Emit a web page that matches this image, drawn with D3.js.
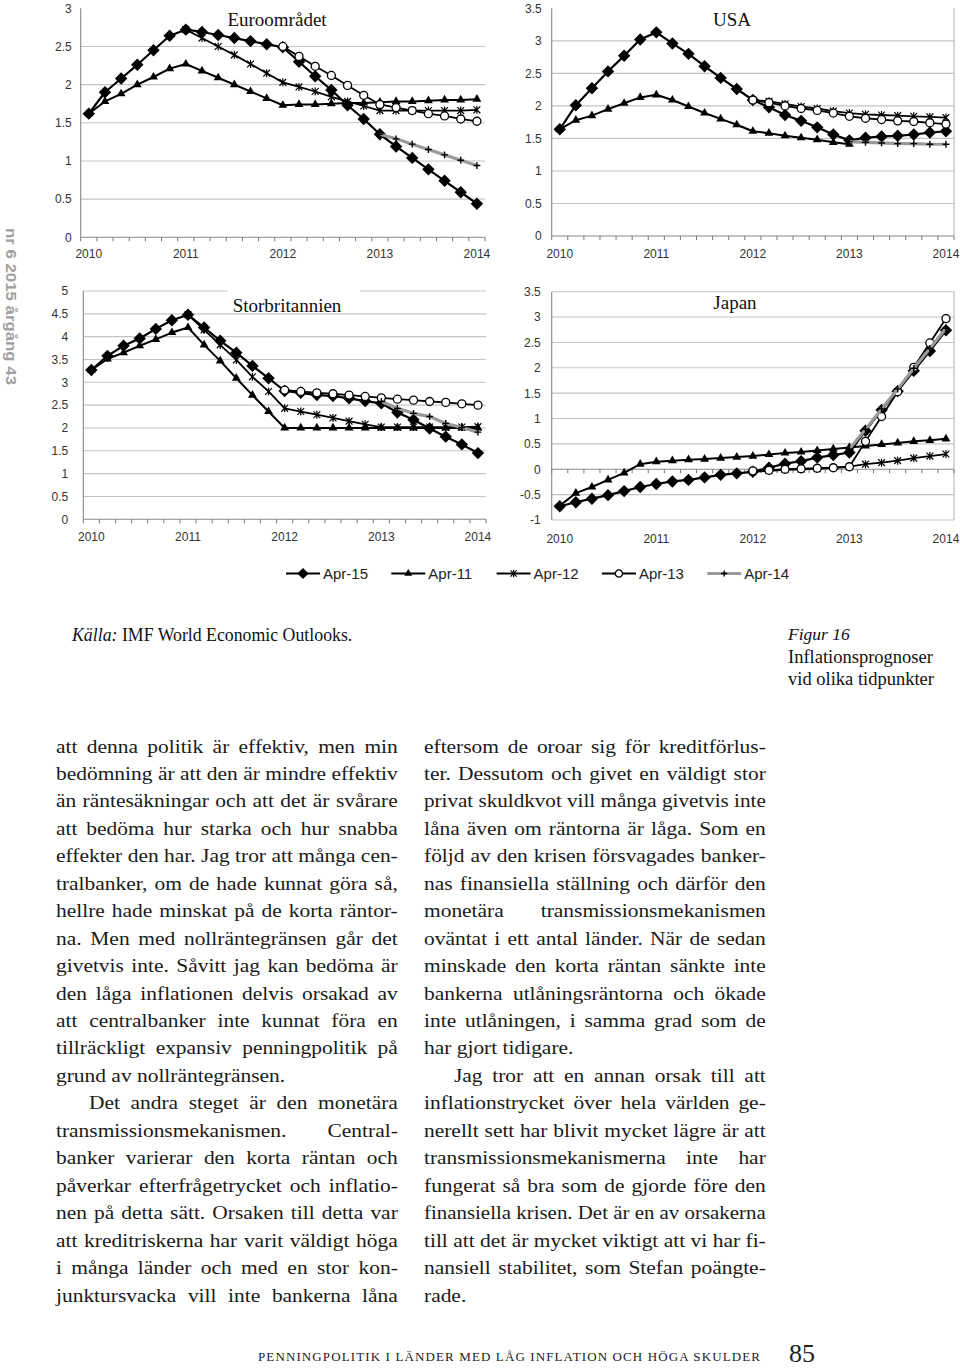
<!DOCTYPE html>
<html><head><meta charset="utf-8">
<script src="https://cdn.jsdelivr.net/npm/d3@7/dist/d3.min.js"></script>
<style>body{margin:0;background:#fff}svg{display:block}</style>
</head><body>
<svg id="page" width="960" height="1368"></svg>
<script>
// ---------------- DATA ----------------
const periods = ["2010-01","2010-03","2010-05","2010-07","2010-09","2010-11",
 "2011-01","2011-03","2011-05","2011-07","2011-09","2011-11",
 "2012-01","2012-03","2012-05","2012-07","2012-09","2012-11",
 "2013-01","2013-03","2013-05","2013-07","2013-09","2013-11","2014-01"];
const yearTickPeriods = ["2010-01","2011-01","2012-01","2013-01","2014-01"];
const yearLabels = ["2010","2011","2012","2013","2014"];
const seriesNames = ["Apr-15","Apr-11","Apr-12","Apr-13","Apr-14"];
const N = null;

const euroApr15 = [1.62,1.90,2.08,2.26,2.45,2.64,2.72, 2.69,2.65,2.61,2.57,2.53,2.49, 2.30,2.11,1.93,1.73,1.55,1.35, 1.19,1.04,0.89,0.74,0.59,0.44];
const euroApr11 = [1.62,1.78,1.88,2.00,2.10,2.21,2.27, 2.18,2.09,2.00,1.91,1.82,1.73, 1.74,1.74,1.75,1.76,1.76,1.77, 1.78,1.78,1.79,1.80,1.80,1.81];
const euroApr12 = [N,N,N,N,N,N,2.72, 2.61,2.50,2.39,2.27,2.15,2.03, 1.97,1.91,1.84,1.78,1.72,1.66, 1.66,1.66,1.66,1.66,1.66,1.67];
const euroApr13 = [N,N,N,N,N,N,N,N,N,N,N,N,2.50, 2.37,2.24,2.12,1.99,1.86,1.74, 1.70,1.66,1.62,1.59,1.55,1.52];
const euroApr14 = [N,N,N,N,N,N,N,N,N,N,N,N,N,N,N,N,N,N,1.35, 1.29,1.22,1.15,1.08,1.01,0.94];

const usaApr15 = [1.64,2.01,2.27,2.53,2.77,3.02,3.13, 2.96,2.80,2.61,2.43,2.26,2.09, 1.98,1.86,1.77,1.67,1.56,1.47, 1.51,1.53,1.54,1.56,1.59,1.61];
const usaApr11 = [1.64,1.78,1.85,1.95,2.04,2.13,2.17, 2.09,1.99,1.89,1.80,1.71,1.61, 1.58,1.54,1.51,1.48,1.44,1.41, N,N,N,N,N,N];
const usaApr12 = [N,N,N,N,N,N,N,N,N,N,N,N,2.09, 2.07,2.03,1.99,1.96,1.92,1.89, 1.87,1.86,1.85,1.84,1.83,1.82];
const usaApr13 = [N,N,N,N,N,N,N,N,N,N,N,N,2.09, 2.05,2.00,1.96,1.93,1.89,1.84, 1.81,1.79,1.77,1.76,1.74,1.72];
const usaApr14 = [N,N,N,N,N,N,N,N,N,N,N,N,N,N,N,N,N,N,1.45, 1.44,1.43,1.42,1.42,1.41,1.41];

const ukApr15 = [3.27,3.58,3.80,3.96,4.17,4.36,4.48, 4.20,3.91,3.65,3.36,3.09,2.81, 2.77,2.72,2.70,2.65,2.59,2.54, 2.34,2.18,1.99,1.81,1.64,1.45];
const ukApr11 = [3.27,3.51,3.65,3.80,3.94,4.09,4.20, 3.82,3.47,3.09,2.72,2.36,2.00, 2.00,2.00,2.00,2.00,2.00,2.00, 2.00,2.00,2.00,2.00,2.00,2.00];
const ukApr12 = [N,N,N,N,N,N,4.48, 4.15,3.82,3.49,3.12,2.80,2.43, 2.36,2.29,2.22,2.15,2.08,2.02, 2.02,2.02,2.02,2.02,2.02,2.03];
const ukApr13 = [N,N,N,N,N,N,N,N,N,N,N,N,2.83, 2.80,2.77,2.75,2.72,2.69,2.66, 2.63,2.61,2.58,2.56,2.53,2.50];
const ukApr14 = [N,N,N,N,N,N,N,N,N,N,N,N,N,N,N,N,N,N,2.58, 2.43,2.32,2.25,2.10,2.01,1.91];

const japanApr15 = [-0.73,-0.65,-0.58,-0.51,-0.43,-0.35,-0.29, -0.24,-0.21,-0.16,-0.11,-0.08,-0.05, 0.03,0.11,0.16,0.23,0.28,0.33, 0.76,1.17,1.54,1.94,2.33,2.74];
const japanApr11 = [-0.72,-0.47,-0.35,-0.21,-0.07,0.10,0.15, 0.17,0.19,0.20,0.22,0.24,0.26, 0.29,0.32,0.34,0.37,0.40,0.43, 0.46,0.49,0.52,0.55,0.57,0.60];
const japanApr12 = [N,N,N,N,N,N,N,N,N,N,N,N,-0.05, -0.03,-0.01,0.00,0.01,0.03,0.05, 0.10,0.13,0.17,0.22,0.26,0.30];
const japanApr13 = [N,N,N,N,N,N,N,N,N,N,N,N,-0.03, -0.02,0.00,0.01,0.02,0.03,0.05, 0.55,1.04,1.53,2.01,2.49,2.97];
const japanApr14 = [N,N,N,N,N,N,N,N,N,N,N,N,N,N,N,N,N,N,0.40, 0.79,1.19,1.58,1.99,2.38,2.78];

const euroTicks = [0,0.5,1,1.5,2,2.5,3];
const usaTicks = [0,0.5,1,1.5,2,2.5,3,3.5];
const ukTicks = [0,0.5,1,1.5,2,2.5,3,3.5,4,4.5,5];
const japanTicks = [-1,-0.5,0,0.5,1,1.5,2,2.5,3,3.5];

// ---------------- STYLE / LAYOUT ----------------
const SANS = "'Liberation Sans', Arial, sans-serif";
const SERIF = "'Liberation Serif', 'Times New Roman', serif";
const svg = d3.select("#page");

const styles = {
  "Apr-15": {stroke:"#000", w:2.2, m:"diamond"},
  "Apr-11": {stroke:"#000", w:2.0, m:"triangle"},
  "Apr-12": {stroke:"#000", w:1.8, m:"asterisk"},
  "Apr-13": {stroke:"#000", w:1.8, m:"circle"},
  "Apr-14": {stroke:"#9a9a9a", w:3.2, m:"plus"}
};

function marker(sel, type, scale) {
  const s = scale || 1;
  if (type === "diamond") {
    const r = 6.2*s;
    sel.append("path").attr("d", `M0,${-r}L${r},0L0,${r}L${-r},0Z`).attr("fill","#000");
  } else if (type === "triangle") {
    sel.append("path").attr("d", d3.symbol(d3.symbolTriangle, 34*s*s)()).attr("fill","#000");
  } else if (type === "circle") {
    sel.append("circle").attr("r", 4*s).attr("fill","#fff").attr("stroke","#000").attr("stroke-width",1.3);
  } else if (type === "asterisk") {
    const r = 3.4*s;
    sel.append("path").attr("d", `M${-r},${-r}L${r},${r}M${-r},${r}L${r},${-r}M0,${-r-0.6}L0,${r+0.6}`)
      .attr("stroke","#000").attr("stroke-width",1.2).attr("fill","none");
  } else if (type === "plus") {
    const r = 3.4*s;
    sel.append("path").attr("d", `M${-r},0L${r},0M0,${-r}L0,${r}`)
      .attr("stroke","#000").attr("stroke-width",1.4).attr("fill","none");
  }
}

function drawPanel(cfg) {
  const g = svg.append("g");
  const x = d3.scaleBand().domain(periods).range([cfg.x0, cfg.x1]);
  const cx = p => x(p) + x.bandwidth()/2;
  const y = d3.scaleLinear().domain(cfg.domain).range([cfg.yBottom, cfg.yTop]);
  const axisY = y(cfg.axisAt);

  g.selectAll("line.grid")
    .data(cfg.ticks.filter(t => t !== cfg.axisAt && (cfg.topLine || t !== cfg.domain[1])))
    .enter().append("line")
    .attr("x1", cfg.x0).attr("x2", cfg.x1)
    .attr("y1", d => y(d)).attr("y2", d => y(d))
    .attr("stroke", "#c4c4c4").attr("stroke-width", 1.1);
  if (cfg.rightBorder) {
    g.append("line").attr("x1", cfg.x1).attr("x2", cfg.x1).attr("y1", cfg.yTop).attr("y2", cfg.yBottom)
      .attr("stroke","#b0b0b0").attr("stroke-width",1);
  }
  const ya = g.append("g").attr("transform", `translate(${cfg.x0},0)`)
    .call(d3.axisLeft(y).tickValues(cfg.ticks).tickSize(0).tickPadding(cfg.labelGap).tickFormat(d => String(d)));
  ya.select(".domain").remove();
  ya.selectAll("text").attr("font-family", SANS).attr("font-size", 12).attr("fill", "#333");
  g.append("line").attr("x1", cfg.x0).attr("x2", cfg.x0).attr("y1", cfg.yTop).attr("y2", cfg.yBottom)
    .attr("stroke","#888").attr("stroke-width",1.1);
  g.append("line").attr("x1", cfg.x0).attr("x2", cfg.x1).attr("y1", axisY).attr("y2", axisY)
    .attr("stroke","#888").attr("stroke-width",1.1);
  const bounds = periods.map(p => x(p)).concat([cfg.x1]);
  g.selectAll("line.xt").data(bounds).enter().append("line")
    .attr("x1", d => d).attr("x2", d => d).attr("y1", axisY).attr("y2", axisY + 4)
    .attr("stroke","#777").attr("stroke-width",1);
  const xa = g.append("g").attr("transform", `translate(0,${cfg.yBottom + cfg.xLabelOffset})`)
    .call(d3.axisBottom(x).tickValues(yearTickPeriods).tickSize(0).tickPadding(0)
      .tickFormat((d,i) => yearLabels[i]));
  xa.select(".domain").remove();
  xa.selectAll("text").attr("dy", 0).attr("font-family", SANS).attr("font-size", 12).attr("fill","#333");

  if (cfg.titleBox) {
    g.append("rect").attr("x", cfg.titleBox[0]).attr("y", cfg.titleBox[1])
      .attr("width", cfg.titleBox[2]).attr("height", cfg.titleBox[3]).attr("fill","#fff");
  }
  g.append("text").attr("x", cfg.titleX).attr("y", cfg.titleY).attr("text-anchor","middle")
    .attr("font-family", SERIF).attr("font-size", 19).attr("fill","#111").text(cfg.title);

  const line = d3.line().defined(d => d.v !== null).x(d => cx(d.p)).y(d => y(d.v));
  seriesNames.forEach((name, si) => {
    const vals = cfg.series[si];
    const pts = periods.map((p, i) => ({p: p, v: vals[i]}));
    const st = styles[name];
    g.append("path").datum(pts).attr("d", line).attr("fill","none")
      .attr("stroke", st.stroke).attr("stroke-width", st.w).attr("stroke-linejoin","round");
    pts.filter(d => d.v !== null).forEach(d => {
      const mg = g.append("g").attr("transform", `translate(${cx(d.p)},${y(d.v)})`);
      marker(mg, st.m);
    });
  });
}

drawPanel({x0:80.7, x1:485, yTop:8.3, yBottom:237.3, domain:[0,3], ticks:euroTicks, axisAt:0,
  labelGap:9, xLabelOffset:21, topLine:false, rightBorder:false,
  title:"Euroområdet", titleX:277, titleY:26,
  series:[euroApr15, euroApr11, euroApr12, euroApr13, euroApr14]});
drawPanel({x0:551.7, x1:954, yTop:8.3, yBottom:236, domain:[0,3.5], ticks:usaTicks, axisAt:0,
  labelGap:10, xLabelOffset:22, topLine:false, rightBorder:true,
  title:"USA", titleX:732, titleY:26,
  series:[usaApr15, usaApr11, usaApr12, usaApr13, usaApr14]});
drawPanel({x0:83.3, x1:486, yTop:291, yBottom:519.3, domain:[0,5], ticks:ukTicks, axisAt:0,
  labelGap:15, xLabelOffset:22, topLine:true, rightBorder:false,
  title:"Storbritannien", titleX:287, titleY:312, titleBox:[228,283,132,18],
  series:[ukApr15, ukApr11, ukApr12, ukApr13, ukApr14]});
drawPanel({x0:551.7, x1:954, yTop:291.7, yBottom:520, domain:[-1,3.5], ticks:japanTicks, axisAt:0,
  labelGap:11, xLabelOffset:23, topLine:true, rightBorder:true,
  title:"Japan", titleX:735, titleY:309,
  series:[japanApr15, japanApr11, japanApr12, japanApr13, japanApr14]});

// legend
const lx = d3.scaleBand().domain(seriesNames).range([286, 286 + 5*105.3]);
const lg = svg.append("g");
seriesNames.forEach(name => {
  const st = styles[name];
  const x0 = lx(name), ly = 573.5;
  lg.append("line").attr("x1", x0).attr("x2", x0 + 34).attr("y1", ly).attr("y2", ly)
    .attr("stroke", st.stroke).attr("stroke-width", st.w);
  marker(lg.append("g").attr("transform", `translate(${x0+17},${ly})`), st.m, 0.9);
  lg.append("text").attr("x", x0 + 37).attr("y", ly + 5).attr("font-family", SANS)
    .attr("font-size", 15).attr("fill","#222").text(name);
});

// ---------------- PAGE TEXT ----------------
const kalla = svg.append("text").attr("x", 72).attr("y", 641).attr("font-family", SERIF)
  .attr("font-size", 17.8).attr("fill","#111");
kalla.append("tspan").attr("font-style","italic").text("Källa:");
kalla.append("tspan").text(" IMF World Economic Outlooks.");

svg.append("text").attr("x", 788).attr("y", 640).attr("font-family", SERIF).attr("font-style","italic")
  .attr("font-size", 17.5).attr("fill","#111").text("Figur 16");
svg.append("text").attr("x", 788).attr("y", 663).attr("font-family", SERIF)
  .attr("font-size", 18.5).attr("fill","#111").text("Inflationsprognoser");
svg.append("text").attr("x", 788).attr("y", 685).attr("font-family", SERIF)
  .attr("font-size", 18.5).attr("fill","#111").text("vid olika tidpunkter");

// side label
svg.append("text").attr("transform","translate(6,228) rotate(90)")
  .attr("font-family", SANS).attr("font-weight","bold").attr("font-size", 14)
  .attr("fill","#a0a0a0").attr("textLength", 157).attr("lengthAdjust","spacingAndGlyphs")
  .text("nr 6 2015 årgång 43");

const leftLines = [
 ["att denna politik är effektiv, men min",1,0],
 ["bedömning är att den är mindre effektiv",1,0],
 ["än räntesäkningar och att det är svårare",1,0],
 ["att bedöma hur starka och hur snabba",1,0],
 ["effekter den har. Jag tror att många cen-",1,0],
 ["tralbanker, om de hade kunnat göra så,",1,0],
 ["hellre hade minskat på de korta räntor-",1,0],
 ["na. Men med nollräntegränsen går det",1,0],
 ["givetvis inte. Såvitt jag kan bedöma är",1,0],
 ["den låga inflationen delvis orsakad av",1,0],
 ["att centralbanker inte kunnat föra en",1,0],
 ["tillräckligt expansiv penningpolitik på",1,0],
 ["grund av nollräntegränsen.",0,0],
 ["Det andra steget är den monetära",1,1],
 ["transmissionsmekanismen. Central-",1,0],
 ["banker varierar den korta räntan och",1,0],
 ["påverkar efterfrågetrycket och inflatio-",1,0],
 ["nen på detta sätt. Orsaken till detta var",1,0],
 ["att kreditriskerna har varit väldigt höga",1,0],
 ["i många länder och med en stor kon-",1,0],
 ["junktursvacka vill inte bankerna låna",1,0]
];
const rightLines = [
 ["eftersom de oroar sig för kreditförlus-",1,0],
 ["ter. Dessutom och givet en väldigt stor",1,0],
 ["privat skuldkvot vill många givetvis inte",1,0],
 ["låna även om räntorna är låga. Som en",1,0],
 ["följd av den krisen försvagades banker-",1,0],
 ["nas finansiella ställning och därför den",1,0],
 ["monetära transmissionsmekanismen",1,0],
 ["oväntat i ett antal länder. När de sedan",1,0],
 ["minskade den korta räntan sänkte inte",1,0],
 ["bankerna utlåningsräntorna och ökade",1,0],
 ["inte utlåningen, i samma grad som de",1,0],
 ["har gjort tidigare.",0,0],
 ["Jag tror att en annan orsak till att",1,1],
 ["inflationstrycket över hela världen ge-",1,0],
 ["nerellt sett har blivit mycket lägre är att",1,0],
 ["transmissionsmekanismerna inte har",1,0],
 ["fungerat så bra som de gjorde före den",1,0],
 ["finansiella krisen. Det är en av orsakerna",1,0],
 ["till att det är mycket viktigt att vi har fi-",1,0],
 ["nansiell stabilitet, som Stefan poängte-",1,0],
 ["rade.",0,0]
];

const GLYPH_STRETCH = 1.1;
function column(lines, x0, x1, y0, lh, indent) {
  lines.forEach((ln, i) => {
    const xs = x0 + (ln[2] ? indent : 0);
    const yy = y0 + i*lh;
    const t = svg.append("text").attr("x", 0).attr("y", 0)
      .attr("font-family", SERIF).attr("font-size", 19.5).attr("fill","#1a1a1a").text(ln[0]);
    const natural = t.node().getComputedTextLength();
    const target = x1 - xs;
    let s = GLYPH_STRETCH;
    if (ln[1]) {
      s = Math.max(0.97, Math.min(GLYPH_STRETCH, target / natural));
      const spaces = (ln[0].match(/ /g) || []).length;
      if (spaces > 0) t.attr("word-spacing", (target / s - natural) / spaces);
    }
    t.attr("transform", `translate(${xs},${yy}) scale(${s},1)`);
  });
}
column(leftLines, 56, 398, 752.5, 27.45, 33);
column(rightLines, 424, 766, 752.5, 27.45, 30);

// footer
svg.append("text").attr("x", 258).attr("y", 1361).attr("font-family", SERIF)
  .attr("font-size", 13).attr("fill","#222").attr("textLength", 502).attr("lengthAdjust","spacing")
  .text("PENNINGPOLITIK I LÄNDER MED LÅG INFLATION OCH HÖGA SKULDER");
svg.append("text").attr("x", 789).attr("y", 1362).attr("font-family", SERIF)
  .attr("font-size", 26).attr("fill","#222").text("85");
</script>
</body></html>
